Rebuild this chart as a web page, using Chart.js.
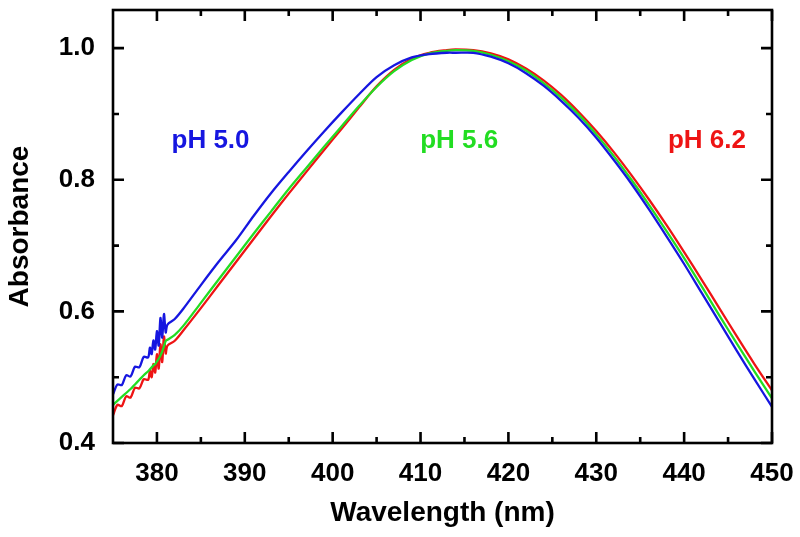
<!DOCTYPE html>
<html><head><meta charset="utf-8">
<script src="https://cdn.jsdelivr.net/npm/chart.js@4/dist/chart.umd.min.js"></script>
<style>html,body{margin:0;padding:0;background:#fff}</style>
</head><body>
<canvas id="c" width="800" height="537"></canvas>
<script>
const wavelengths = [375,375.5,376,376.5,377,377.5,378,378.5,379,379.2,379.4,379.6,379.8,380,380.2,380.4,380.6,380.8,381,381.2,382,383,
  385,387,389,391,393,395,397,399,401,403,405,407,409,411,413,
  414,416,418,420,422,424,426,428,430,432,434,436,438,440,442,444,446,448,450];
const absPH50 = [0.474,0.489,0.488,0.503,0.501,0.516,0.515,0.531,0.530,0.545,0.535,0.556,0.542,0.570,0.548,0.590,0.560,0.596,0.568,0.580,0.588,0.604,
  0.640,0.675,0.708,0.745,0.780,0.812,0.843,0.873,0.902,0.930,0.956,0.974,0.986,0.991,0.993,
  0.993,0.993,0.987,0.977,0.962,0.943,0.920,0.894,0.864,0.830,0.794,0.755,0.714,0.672,0.628,0.584,0.540,0.497,0.455];
const absPH56 = [0.458,0.464,0.470,0.476,0.482,0.489,0.496,0.503,0.509,0.512,0.515,0.518,0.520,0.524,0.528,0.533,0.539,0.547,0.555,0.557,0.564,0.578,
  0.613,0.648,0.683,0.718,0.752,0.786,0.818,0.850,0.881,0.912,0.941,0.965,0.982,0.992,0.996,
  0.997,0.996,0.990,0.980,0.966,0.947,0.925,0.899,0.869,0.836,0.800,0.762,0.722,0.681,0.638,0.594,0.551,0.509,0.468];
const absPH62 = [0.442,0.458,0.456,0.471,0.469,0.484,0.483,0.497,0.496,0.510,0.500,0.520,0.507,0.535,0.513,0.550,0.523,0.562,0.536,0.548,0.555,0.571,
  0.605,0.640,0.675,0.710,0.745,0.779,0.812,0.845,0.877,0.910,0.942,0.967,0.984,0.993,0.997,
  0.998,0.997,0.992,0.983,0.969,0.951,0.929,0.903,0.874,0.842,0.807,0.770,0.731,0.690,0.648,0.605,0.562,0.520,0.480];
const seriesNames = ['pH 5.0','pH 5.6','pH 6.2'];
const seriesColors = ['#1616e0','#22dd22','#ee1414'];
const xTickLabels = [380,390,400,410,420,430,440,450];
const xMinorTicks = [385,395,405,415,425,435,445];
const yTickLabels = [0.4,0.6,0.8,1.0];
const yMinorTicks = [0.5,0.7,0.9];
const labelWavelengths = [386.1,414.4,442.6];
const labelAbsorbances = [0.859,0.859,0.859];

const FONT = "'Liberation Sans', Arial, Helvetica, sans-serif";
const toPts = arr => wavelengths.map((w,i)=>({x:w,y:arr[i]}));
const allSeries = [absPH50, absPH56, absPH62];

const frameTicks = {
  id:'frameTicks',
  afterDatasetsDraw(chart){
    const {ctx, chartArea:{left,right,top,bottom}, scales:{x,y}} = chart;
    ctx.save();
    ctx.strokeStyle='#000'; ctx.lineWidth=2.6;
    ctx.strokeRect(left,top,right-left,bottom-top);
    ctx.beginPath();
    const xt=(vals,len)=>vals.forEach(v=>{const p=x.getPixelForValue(v);
      ctx.moveTo(p,bottom);ctx.lineTo(p,bottom-len);ctx.moveTo(p,top);ctx.lineTo(p,top+len);});
    const yt=(vals,len)=>vals.forEach(v=>{const p=y.getPixelForValue(v);
      ctx.moveTo(left,p);ctx.lineTo(left+len,p);ctx.moveTo(right,p);ctx.lineTo(right-len,p);});
    xt(xTickLabels,11); xt(xMinorTicks,6); yt(yTickLabels,11); yt(yMinorTicks,6);
    ctx.stroke();
    ctx.font='bold 26px '+FONT; ctx.textAlign='center'; ctx.textBaseline='middle';
    seriesNames.forEach((n,i)=>{ctx.fillStyle=seriesColors[i];
      ctx.fillText(n,x.getPixelForValue(labelWavelengths[i]),y.getPixelForValue(labelAbsorbances[i]));});
    ctx.restore();
  }
};

new Chart(document.getElementById('c'),{
  type:'line',
  data:{datasets: allSeries.map((s,i)=>({label:seriesNames[i],data:toPts(s),borderColor:seriesColors[i],
    backgroundColor:seriesColors[i],borderWidth:2.3,pointRadius:0,fill:false,tension:0.3}))},
  options:{
    responsive:false, animation:false, devicePixelRatio:1,
    layout:{padding:{top:10,right:28,left:0,bottom:0}},
    plugins:{legend:{display:false},tooltip:{enabled:false}},
    scales:{
      x:{type:'linear',min:375,max:450,
        grid:{display:false},border:{display:false},
        afterBuildTicks:s=>{s.ticks=xTickLabels.map(v=>({value:v}));},
        afterFit:s=>{s.height=94;s.paddingLeft=0;s.paddingRight=0;},
        ticks:{color:'#000',font:{family:FONT,size:26,weight:'bold'},padding:7,maxRotation:0,autoSkip:false},
        title:{display:true,text:'Wavelength (nm)',color:'#000',font:{family:FONT,size:28,weight:'bold'},padding:{top:0,bottom:7}}
      },
      y:{type:'linear',min:0.4,max:1.058,
        grid:{display:false},border:{display:false},
        afterBuildTicks:s=>{s.ticks=yTickLabels.map(v=>({value:v}));},
        afterFit:s=>{s.width=113;s.paddingTop=0;s.paddingBottom=0;},
        ticks:{color:'#000',font:{family:FONT,size:26,weight:'bold'},padding:10,callback:v=>Number(v).toFixed(1)},
        title:{display:true,text:'Absorbance',color:'#000',font:{family:FONT,size:28,weight:'bold'},padding:{top:3,bottom:0}}
      }
    }
  },
  plugins:[frameTicks]
});
</script>
</body></html>
